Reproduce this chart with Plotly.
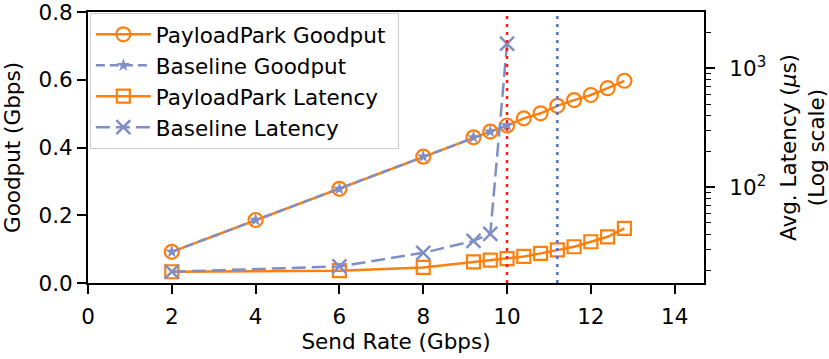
import plotly.graph_objects as go

# send rates (Gbps)
pp_rate = [2, 4, 6, 8, 9.2, 9.6, 10, 10.4, 10.8, 11.2, 11.6, 12, 12.4, 12.8]
pp_goodput = [0.092, 0.186, 0.278, 0.373, 0.430, 0.447, 0.465, 0.486, 0.501,
              0.523, 0.540, 0.555, 0.575, 0.597]
base_rate = [2, 4, 6, 8, 9.2, 9.6, 10]
base_goodput = [0.092, 0.186, 0.278, 0.373, 0.430, 0.447, 0.465]

# latency (us), log scale
pp_lat_rate = [2, 6, 8, 9.2, 9.6, 10, 10.4, 10.8, 11.2, 11.6, 12, 12.4, 12.8]
pp_latency = [19.4, 19.8, 21.1, 23.5, 24.3, 25.0, 26.1, 27.7, 29.6, 31.5, 34.7, 38.2, 45.0]
base_lat_rate = [2, 6, 8, 9.2, 9.6, 10]
base_latency = [19.4, 21.5, 28.0, 35.3, 40.5, 1614]

# vertical markers
vline_rates = [10, 11.2]
vline_colors = ["#ff1a1a", "#4a6fc7"]

minor_vals = [20, 30, 40, 50, 60, 70, 80, 90, 200, 300, 400, 500, 600, 700, 800, 900, 2000, 3000]

ORANGE = "#ff7f0e"
BLUE = "#7f8fc6"
FONT = "DejaVu Sans"
FS = 21.5
PAD = "\u00a0"  # widen legend box a little

fig = go.Figure()

fig.add_trace(go.Scatter(
    x=pp_rate, y=pp_goodput, name="PayloadPark Goodput" + PAD, mode="lines+markers",
    line=dict(color=ORANGE, width=2.5),
    marker=dict(symbol="circle-open", size=14, color=ORANGE, line=dict(width=2.2)),
))
fig.add_trace(go.Scatter(
    x=base_rate, y=base_goodput, name="Baseline Goodput", mode="lines+markers",
    line=dict(color=BLUE, width=2.5, dash="9px,5px"),
    marker=dict(symbol="star", size=10, color=BLUE),
))
fig.add_trace(go.Scatter(
    x=pp_lat_rate, y=pp_latency, name="PayloadPark Latency", mode="lines+markers",
    yaxis="y2",
    line=dict(color=ORANGE, width=2.5),
    marker=dict(symbol="square-open", size=13, color=ORANGE, line=dict(width=2.2)),
))
fig.add_trace(go.Scatter(
    x=base_lat_rate, y=base_latency, name="Baseline Latency", mode="lines+markers",
    yaxis="y2",
    line=dict(color=BLUE, width=2.5, dash="14px,6px"),
    marker=dict(symbol="x-thin", size=14, color=BLUE, line=dict(width=2.5, color=BLUE)),
))

for xv, c in zip(vline_rates, vline_colors):
    fig.add_vline(x=xv, line=dict(color=c, width=2.5, dash="3px,5px"), layer="above")

axis_common = dict(
    showgrid=False, zeroline=False, showline=True, linecolor="black", linewidth=2,
    ticks="outside", ticklen=9, tickwidth=1.5, tickcolor="black", automargin=False,
    ticklabeloverflow="allow",
    tickfont=dict(size=FS, color="black", family=FONT),
)

fig.update_layout(
    width=829, height=359,
    margin=dict(l=88, r=125, t=12, b=76),
    plot_bgcolor="white", paper_bgcolor="white",
    font=dict(family=FONT, size=FS, color="black"),
    xaxis=dict(
        **axis_common, mirror=True, range=[0, 14.7], dtick=2, tick0=0,
        title=dict(text="Send Rate (Gbps)", font=dict(size=FS), standoff=6),
        ticklabelstandoff=4,
    ),
    yaxis=dict(
        **axis_common, range=[0, 0.8], dtick=0.2, tickformat=".1f",
        title=dict(text="Goodput (Gbps)", font=dict(size=FS), standoff=20),
    ),
    yaxis2=dict(
        **axis_common, type="log", overlaying="y", side="right",
        range=[1.193, 3.475],
        tickmode="array", tickvals=[100, 1000],
        ticktext=["10<sup>2</sup>", "10<sup>3</sup>"],
        minor=dict(ticks="outside", ticklen=5, tickwidth=1.2, tickcolor="black",
                   tickmode="array", tickvals=minor_vals, showgrid=False),
        title=dict(text="Avg. Latency (<i>μ</i>s)<br>(Log scale)", font=dict(size=FS),
                   standoff=28),
        ticklabelstandoff=10,
    ),
    legend=dict(
        x=0.003, y=0.997, xanchor="left", yanchor="top",
        bgcolor="rgba(255,255,255,0.8)", bordercolor="#cccccc", borderwidth=1,
        font=dict(size=FS, family=FONT), tracegroupgap=0, itemwidth=55,
    ),
    showlegend=True,
)

fig.write_html("out.html", config={"displayModeBar": False},
               post_script="document.body.style.margin='0';")
